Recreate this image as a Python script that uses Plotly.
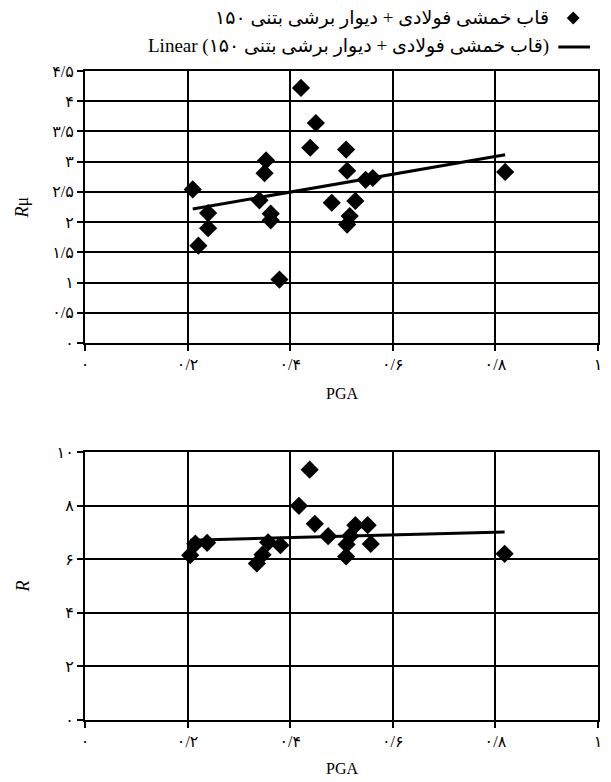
import numpy as np
import plotly.graph_objects as go

# ---- data ----
pga_top = [0.210, 0.221, 0.240, 0.240, 0.340, 0.350, 0.353, 0.362, 0.362, 0.379, 0.421,
           0.439, 0.450, 0.481, 0.509, 0.511, 0.511, 0.516, 0.527, 0.547, 0.561, 0.819]
r_mu = [2.54, 1.61, 2.15, 1.90, 2.36, 2.81, 3.02, 2.14, 2.03, 1.05, 4.22,
        3.23, 3.64, 2.32, 3.20, 2.85, 1.96, 2.10, 2.35, 2.70, 2.73, 2.83]

pga_bot = [0.205, 0.215, 0.238, 0.335, 0.346, 0.357, 0.381, 0.417, 0.438, 0.448, 0.474,
           0.509, 0.510, 0.517, 0.527, 0.551, 0.557, 0.818]
r_val = [6.15, 6.58, 6.61, 5.84, 6.17, 6.63, 6.52, 7.99, 9.34, 7.32, 6.86,
         6.10, 6.55, 6.87, 7.27, 7.27, 6.57, 6.20]

x_tickvals = [0, 0.2, 0.4, 0.6, 0.8, 1.0]
x_ticktext = ["۰", "۰/۲", "۰/۴", "۰/۶", "۰/۸", "۱"]
y1_tickvals = [0, 0.5, 1, 1.5, 2, 2.5, 3, 3.5, 4, 4.5]
y1_ticktext = ["۰", "۰/۵", "۱", "۱/۵", "۲", "۲/۵", "۳", "۳/۵", "۴", "۴/۵"]
y2_tickvals = [0, 2, 4, 6, 8, 10]
y2_ticktext = ["۰", "۲", "۴", "۶", "۸", "۱۰"]

series_name = "قاب خمشی فولادی + دیوار برشی بتنی ۱۵۰"
trend_name = "Linear (قاب خمشی فولادی + دیوار برشی بتنی ۱۵۰)"

FONT = "Liberation Serif, Times New Roman, DejaVu Sans, serif"

# linear trend lines (least squares, drawn over the data x-range)
def trend(x, y):
    a, b = np.polyfit(x, y, 1)
    xs = np.array([min(x), max(x)])
    return xs, a * xs + b

tx1, ty1 = trend(pga_top, r_mu)
tx2, ty2 = trend(pga_bot, r_val)

fig = go.Figure()
mk = dict(symbol="diamond", size=14, color="black", line=dict(width=0))
fig.add_trace(go.Scatter(x=tx1, y=ty1, mode="lines", line=dict(color="black", width=3),
                         xaxis="x", yaxis="y", showlegend=False))
fig.add_trace(go.Scatter(x=pga_top, y=r_mu, mode="markers", marker=mk,
                         xaxis="x", yaxis="y", showlegend=False))
fig.add_trace(go.Scatter(x=tx2, y=ty2, mode="lines", line=dict(color="black", width=3),
                         xaxis="x2", yaxis="y2", showlegend=False))
fig.add_trace(go.Scatter(x=pga_bot, y=r_val, mode="markers", marker=mk,
                         xaxis="x2", yaxis="y2", showlegend=False))

common = dict(showgrid=True, gridcolor="black", gridwidth=1.6, showline=True,
              linecolor="black", linewidth=2, mirror=True, ticks="outside",
              ticklen=6, tickwidth=1.6, tickcolor="black", zeroline=False,
              tickfont=dict(family=FONT, size=16, color="black"))

W, H = 611, 782
L, R, T, B = 85, 9, 71, 62
ph = H - T - B
top_lo = (H - B - 343) / ph
bot_hi = (H - B - 452) / ph

fig.update_layout(
    width=W, height=H,
    margin=dict(l=L, r=R, t=T, b=B),
    paper_bgcolor="white", plot_bgcolor="white",
    font=dict(family=FONT, color="black"),
    xaxis=dict(domain=[0, 1], range=[0, 1], anchor="y",
               tickvals=x_tickvals, ticktext=x_ticktext, **common),
    yaxis=dict(domain=[top_lo, 1], range=[0, 4.5], anchor="x",
               tickvals=y1_tickvals, ticktext=y1_ticktext, **common),
    xaxis2=dict(domain=[0, 1], range=[0, 1], anchor="y2",
                tickvals=x_tickvals, ticktext=x_ticktext, **common),
    yaxis2=dict(domain=[0, bot_hi], range=[0, 10], anchor="x2",
                tickvals=y2_tickvals, ticktext=y2_ticktext, **common),
    showlegend=False,
)

def px_x(p):
    return (p - L) / (W - L - R)

def px_y(p):
    return (H - B - p) / ph

def note(text, x, y, size, xanchor="center", angle=0):
    return dict(text=text, x=x, y=y, xref="paper", yref="paper", xanchor=xanchor,
                yanchor="middle", showarrow=False, textangle=angle,
                font=dict(family=FONT, size=size, color="black"))

ann = [
    note("PGA", 0.5, px_y(394), 16),
    note("PGA", 0.5, px_y(768), 16),
    note("<i>R</i>μ", px_x(22), (top_lo + 1) / 2, 18, angle=-90),
    note("<i>R</i>", px_x(23), bot_hi / 2, 18, angle=-90),
    # legend texts (RTL, symbol on the right)
    note(series_name, px_x(555), px_y(18), 19, xanchor="right"),
    note(trend_name, px_x(555), px_y(46), 19, xanchor="right"),
]
fig.update_layout(annotations=ann)

# legend symbols
cx, cy, hs = 577, 18, 6.5
fig.add_shape(type="path", xref="paper", yref="paper",
              path=f"M {px_x(cx)} {px_y(cy - hs)} L {px_x(cx + hs)} {px_y(cy)} "
                   f"L {px_x(cx)} {px_y(cy + hs)} L {px_x(cx - hs)} {px_y(cy)} Z",
              fillcolor="black", line=dict(width=0))
fig.add_shape(type="line", xref="paper", yref="paper",
              x0=px_x(562), x1=px_x(594), y0=px_y(47), y1=px_y(47),
              line=dict(color="black", width=3))

fig.write_html("out.html",
               config={"displayModeBar": False},
               post_script="document.body.style.margin='0';document.body.style.overflow='hidden';")
